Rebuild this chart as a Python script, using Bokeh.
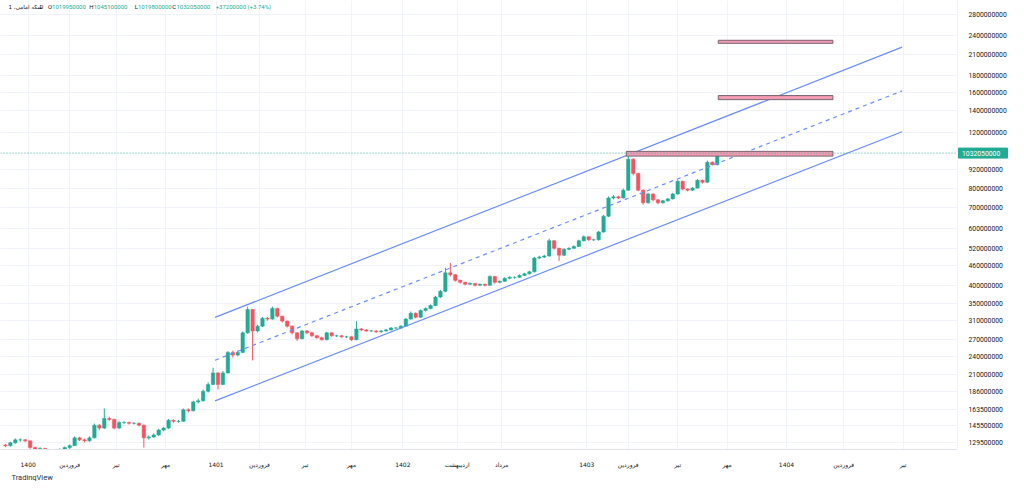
import numpy as np
from bokeh.plotting import figure
from bokeh.layouts import row
from bokeh.models import (FixedTicker, NumeralTickFormatter, Span, Label, Range1d, Title)
from bokeh.core.properties import value
from bokeh.embed import file_html
from bokeh.resources import INLINE

M = 1e6  # values below are in millions of rials

first_open = 127.0
closes = [126.3, 129, 131.7, 131.7, 130.8, 124.6, 122.9, 123.7, 122, 121.2,
          121.2, 122.9, 124.6, 126.3, 133.6, 131.7, 130.8, 133.6, 146.3, 143.3,
          153.6, 152.5, 143.3, 149.3, 149.3, 148.3, 148.3, 146.3, 133.6, 134.5,
          136.4, 141.3, 143.3, 151.5, 150.4, 150.4, 163.5, 162.4, 173, 174.3,
          186.6, 196, 213, 196, 213, 246.8, 242, 246.8, 284, 335.6,
          288, 298, 315.6, 313.4, 338.3, 320, 309, 298, 284, 272.3,
          288, 284, 278, 274.3, 270.4, 284, 278, 278, 276, 276,
          270.4, 292, 290, 288, 288, 286, 288, 290, 294, 294,
          298, 313.4, 326.6, 317.8, 333.4, 338.1, 345.4, 367, 382.6, 437,
          431, 414, 408, 402.5, 405, 399.5, 402.5, 399.5, 425.8, 408,
          411, 420, 423, 423, 429, 434, 440, 486, 489.4, 493,
          550, 521, 496, 517.5, 521, 528, 550, 566, 554, 554,
          586, 656, 748, 754, 748, 791, 988, 891, 791, 723,
          770, 738, 723, 733, 743, 770, 843, 797, 791, 803,
          849, 837, 966, 950, 1032.05]
highs = [128, 130, 133, 133, 132.5, 131, 125.5, 125, 124.5, 123,
         122.5, 124, 125.5, 127.5, 135, 134.5, 133, 135, 148, 147.5,
         165, 155.5, 153.5, 150.5, 150.5, 150, 149.5, 149, 147, 136,
         138, 142.5, 144.5, 153, 152.5, 152, 165, 165, 174.5, 177,
         189, 199, 221, 214, 216, 249, 250, 250, 287, 343,
         337, 301, 318, 318, 343, 340, 321, 310, 299, 285,
         290, 290, 286, 279.5, 276, 286, 285, 280, 279.5, 278,
         277, 309, 294, 292, 290, 289.5, 290, 292, 296, 296,
         300, 316, 331, 329, 336, 341, 348, 370, 386, 453,
         469, 433, 416, 410, 408, 406, 405, 404, 429, 427,
         414, 423, 426, 426, 432, 437, 443, 490, 494, 497,
         558, 553, 523, 521, 525, 532, 554, 571, 568, 558,
         590, 662, 756, 764, 760, 800, 1035, 995, 896, 795,
         776, 773, 741, 738, 748, 776, 852, 846, 802, 808,
         856, 853, 978, 972, 1045.1]
lows = [125, 125.5, 128, 130, 129.5, 123.5, 121.5, 122, 121, 120,
        120, 120.5, 122, 123.5, 126, 130.5, 129.5, 130, 133, 141.5,
        142.5, 151, 142, 142.5, 147.5, 147, 147, 145, 124.6, 132,
        133.5, 135.5, 140, 142.5, 149, 149, 150, 160.5, 161.5, 171,
        173.5, 185, 195, 189, 195, 212, 238, 240, 246, 282,
        233, 285, 296, 310, 312, 317, 306, 295, 281, 268,
        271, 281, 276, 272, 268.5, 269, 276, 275.5, 274, 273.5,
        268, 269, 287.5, 286, 286, 284, 284.5, 286.5, 289, 292,
        292.5, 297, 312, 315, 316, 331, 336, 344, 365, 380,
        426, 410, 404, 399, 400, 396, 397, 396, 398, 404,
        405, 409, 417, 419, 421, 427, 432, 438, 482, 486,
        491, 516, 476, 493, 514, 518, 526, 547, 550, 549,
        551, 583, 652, 740, 742, 745, 788, 880, 785, 713,
        718, 730, 715, 718, 728, 740, 766, 790, 785, 787,
        800, 830, 834, 944, 945]

price_ticks = [129500000, 145500000, 163500000, 186000000, 210000000, 240000000,
               270000000, 310000000, 350000000, 400000000, 460000000, 520000000,
               600000000, 700000000, 800000000, 920000000, 1200000000, 1400000000,
               1600000000, 1800000000, 2100000000, 2400000000, 2800000000]

time_tick_pos = [4.6, 13.0, 22.4, 32.4, 42.6, 51.4, 60.6, 70.0, 80.4, 91.4,
                 100.4, 117.6, 126.0, 136.0, 146.0, 158.0, 169.6, 181.6]
time_tick_labels = ["1400", "فروردین", "تیر", "مهر", "1401", "فروردین", "تیر", "مهر",
                    "1402", "اردیبهشت", "مرداد", "1403", "فروردین", "تیر", "مهر",
                    "1404", "فروردین", "تیر"]

channel_x = [42.4, 181.4]
channel_upper = [317.4, 2208]
channel_mid = [233.3, 1613]
channel_lower = [174.2, 1203]

zones_left = [125.6, 144.2, 144.2]
zones_right = [167.4, 167.4, 167.4]
zones_bottom = [1010, 1515, 2270]
zones_top = [1045, 1560, 2320]

title_text = "سکه امامی، 1"
interval_text = "D"
hdr_open = 1019950000
hdr_high = 1045100000
hdr_low = 1019800000
hdr_close = 1032050000
hdr_change = 37200000
hdr_change_pct = 3.74

UP = "#22ab94"
DOWN = "#f7525f"
TEXT = "#131722"
GRID = "#f0f3fa"
BORDER = "#e0e3eb"

H = 481
MW, SW = 957, 51
BB = 26
FH = H - BB
Y0, Y1 = 1.229e8, 3.087e9

p = figure(width=MW, height=H, title=None, y_axis_type="log", y_axis_location="right",
           x_range=Range1d(-1, 192.6), y_range=Range1d(Y0, Y1),
           output_backend="svg", toolbar_location=None,
           min_border_left=0, min_border_top=0, min_border_right=0, min_border_bottom=BB,
           background_fill_color="white", border_fill_color="white",
           outline_line_color=None)
p.yaxis.visible = False

# time axis
p.xaxis.ticker = FixedTicker(ticks=time_tick_pos)
p.xaxis.major_label_overrides = {float(k): v for k, v in zip(time_tick_pos, time_tick_labels)}
p.xaxis.major_tick_line_color = None
p.xaxis.minor_tick_line_color = None
p.xaxis.axis_line_color = BORDER
p.xaxis.major_label_text_font = "DejaVu Sans"
p.xaxis.major_label_text_font_size = "6px"
p.xaxis.major_label_text_color = TEXT
p.xaxis.major_label_standoff = 5

p.add_layout(Title(text="TradingView", align="left", offset=11, standoff=0,
                   text_font="Roboto", text_font_size="7.5px", text_font_style="normal",
                   text_color="#2a2e39"), "below")

p.ygrid.ticker = FixedTicker(ticks=price_ticks)
p.xgrid.ticker = FixedTicker(ticks=time_tick_pos)
p.grid.grid_line_color = GRID
p.grid.grid_line_width = 1

# candles
c = np.array(closes) * M
h = np.array(highs) * M
l = np.array(lows) * M
o = np.concatenate([[first_open], closes[:-1]]) * M
idx = np.arange(len(c))
colors = [UP if cc >= oo else DOWN for oo, cc in zip(o, c)]
p.segment(idx, h, idx, l, line_color=colors, line_width=1)
p.vbar(x=idx, width=0.7, top=np.maximum(o, c), bottom=np.minimum(o, c),
       fill_color=colors, line_color=colors, line_width=0.5)

# channel
CH = "#6c8ef5"
p.line(channel_x, np.array(channel_upper) * M, line_color=CH, line_width=1.2)
p.line(channel_x, np.array(channel_mid) * M, line_color=CH, line_width=1.2, line_dash="4 4")
p.line(channel_x, np.array(channel_lower) * M, line_color=CH, line_width=1.2)

# target zones
p.quad(left=zones_left, right=zones_right,
       bottom=np.array(zones_bottom) * M, top=np.array(zones_top) * M,
       fill_color="#f29ab2", fill_alpha=1, line_color="#7b6470", line_width=1)

# last price line
p.add_layout(Span(location=hdr_close, dimension="width", line_color=UP,
                  line_dash="1 2", line_width=1, line_alpha=0.9))

# header legend
hy = FH - 12
FS = "6px"
p.add_layout(Label(x=8, y=hy, x_units="screen", y_units="screen", text=title_text,
                   text_font="DejaVu Sans", text_font_size="5.6px", text_color=TEXT,
                   text_baseline="middle"))
p.add_layout(Label(x=39, y=hy, x_units="screen", y_units="screen", text=interval_text,
                   text_font="Roboto", text_font_size=FS, text_color=TEXT,
                   text_baseline="middle"))
items = [(47.4, 51.6, "O", hdr_open), (88.8, 93.2, "H", hdr_high),
         (134.2, 137.5, "L", hdr_low), (171.7, 176.0, "C", hdr_close)]
for xk, xv, k, v in items:
    p.add_layout(Label(x=xk, y=hy, x_units="screen", y_units="screen", text=k,
                       text_font="Roboto", text_font_size=FS, text_color=TEXT,
                       text_baseline="middle"))
    p.add_layout(Label(x=xv, y=hy, x_units="screen", y_units="screen", text=f"{v}",
                       text_font="Roboto", text_font_size=FS, text_color=UP,
                       text_baseline="middle"))
p.add_layout(Label(x=215.2, y=hy, x_units="screen", y_units="screen",
                   text=f"+{hdr_change} (+{hdr_change_pct:.2f}%)",
                   text_font="Roboto", text_font_size=FS, text_color=UP,
                   text_baseline="middle"))

# price scale (separate strip sharing the y range)
s = figure(width=SW, height=H, title=None, y_axis_type="log", y_axis_location="right",
           x_range=Range1d(0, SW), y_range=p.y_range, x_axis_location=None,
           output_backend="svg", toolbar_location=None,
           min_border_left=0, min_border_top=0, min_border_right=0, min_border_bottom=BB,
           background_fill_color="white", border_fill_color="white",
           outline_line_color=None)
s.grid.visible = False
s.yaxis.fixed_location = 0
s.yaxis.ticker = FixedTicker(ticks=price_ticks)
s.yaxis.formatter = NumeralTickFormatter(format="0")
s.yaxis.major_tick_line_color = None
s.yaxis.minor_tick_line_color = None
s.yaxis.axis_line_color = BORDER
s.yaxis.major_label_text_font = "Roboto"
s.yaxis.major_label_text_font_size = "6.8px"
s.yaxis.major_label_text_color = TEXT
s.yaxis.major_label_standoff = 5

s.rect(x=[25.5], y=[hdr_close], width=[49], height=[10], height_units="screen",
       fill_color=UP, line_color=UP)
s.text(x=[4.5], y=[hdr_close], text=[f"{hdr_close}"], text_color="white",
       text_font=value("Roboto"), text_font_size="6.8px", text_baseline="middle",
       text_align="left")

layout = row(p, s)
open("out.html", "w").write(file_html(layout, INLINE))
